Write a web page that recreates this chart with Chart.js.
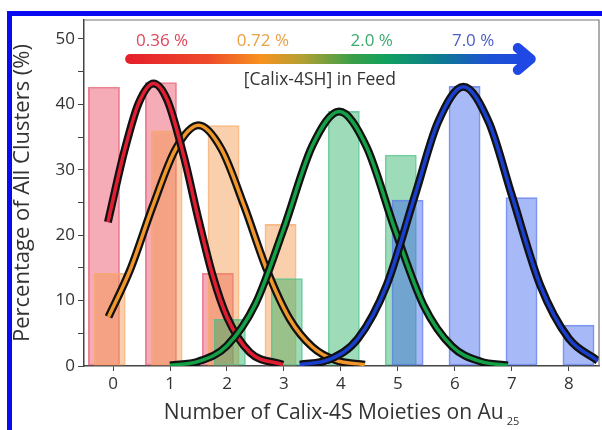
<!DOCTYPE html>
<html>
<head>
<meta charset="utf-8">
<script src="https://cdn.jsdelivr.net/npm/chart.js@4.4.1/dist/chart.umd.min.js"></script>
<style>
  html, body { margin: 0; padding: 0; background: #fff; }
  #frame {
    position: absolute; left: 7px; top: 11px;
    width: 590px; height: 414px;
    border-left: 5px solid #0a0af0; border-top: 5px solid #0a0af0;
  }
  canvas { display: block; }
</style>
</head>
<body>
<div id="frame"><canvas id="chart" width="590" height="414"></canvas></div>
<script>
// categories / tick labels
const moieties = [0, 1, 2, 3, 4, 5, 6, 7, 8];
const xTickLabels = ['0', '1', '2', '3', '4', '5', '6', '7', '8'];
const yTickValues = [0, 5, 10, 15, 20, 25, 30, 35, 40, 45, 50];
const yTickLabels = ['0', '', '10', '', '20', '', '30', '', '40', '', '50'];

// bar heights (% of all clusters) for each feed ratio
const bars036 = [42.7, 43.4, 14.2, null, null, null, null, null, null];
const bars072 = [14.2, 36.0, 36.8, 21.7, null, null, null, null, null];
const bars20  = [null, null, 7.2, 13.4, 39.0, 32.3, null, null, null];
const bars70  = [null, null, null, null, null, 25.4, 42.8, 25.8, 6.3];

// fitted curves, points
const fit036X = [-0.09, 0.2, 0.45, 0.71, 0.95, 1.25, 1.5, 1.75, 2.0, 2.4, 2.98];
const fit036Y = [22.0, 32.9, 40.2, 43.2, 40.7, 31.8, 22.4, 13.8, 7.5, 2.1, 0.2];
const fit072X = [-0.08, 0.3, 0.7, 1.1, 1.5, 1.9, 2.3, 2.7, 3.1, 3.5, 3.9, 4.42];
const fit072Y = [7.5, 14.7, 24.5, 33.2, 36.8, 33.2, 24.5, 14.7, 7.2, 2.9, 0.9, 0.2];
const fit20X  = [1.0, 1.5, 2.0, 2.5, 3.0, 3.5, 3.97, 4.45, 4.95, 5.45, 5.95, 6.45, 6.93];
const fit20Y  = [0.1, 0.7, 3.1, 9.5, 21.1, 33.7, 38.9, 33.5, 20.8, 9.3, 3.0, 0.7, 0.1];
const fit70X  = [3.28, 3.8, 4.3, 4.8, 5.3, 5.7, 6.15, 6.6, 7.0, 7.5, 8.0, 8.51];
const fit70Y  = [0.2, 1.0, 4.2, 12.3, 26.1, 37.2, 42.7, 37.2, 26.1, 12.3, 4.2, 0.8];

const feedLabels = ['0.36 %', '0.72 %', '2.0 %', '7.0 %'];

const FONT = "'Open Sans', 'Noto Sans', sans-serif";
const xMin = -0.51, xMax = 8.53;

// small sideways shift of each bar series (in x units)
const shifts = { x036: -0.16, x072: -0.06, x20: 0.05, x70: 0.17 };

function pts(xs, ys) { return xs.map((v, i) => ({ x: v, y: ys[i] })); }

function barSet(vals, axis, fill, edge, order) {
  return {
    type: 'bar', xAxisID: axis, yAxisID: 'y', order,
    data: moieties.map((m, i) => ({ x: m, y: vals[i] })),
    backgroundColor: fill, borderColor: edge, borderWidth: 2,
    borderSkipped: false, grouped: false,
    barPercentage: 1, categoryPercentage: 0.56
  };
}

function curveSets(xs, ys, color, order) {
  const base = { type: 'line', xAxisID: 'x', yAxisID: 'y',
    pointRadius: 0, cubicInterpolationMode: 'monotone', fill: false };
  return [
    Object.assign({}, base, { data: pts(xs, ys), borderColor: '#111', borderWidth: 8, order: order + 1 }),
    Object.assign({}, base, { data: pts(xs, ys), borderColor: color, borderWidth: 3.5, order })
  ];
}

// arrow + labels across the top, frame, x title
const feedArrow = {
  id: 'feedArrow',
  afterDatasetsDraw(chart) {
    const { ctx, chartArea, scales: { x, y } } = chart;

    ctx.save();
    ctx.strokeStyle = '#777';
    ctx.lineWidth = 1.2;
    ctx.beginPath();
    ctx.moveTo(chartArea.left, chartArea.top);
    ctx.lineTo(chartArea.right, chartArea.top);
    ctx.lineTo(chartArea.right, chartArea.bottom);
    ctx.stroke();

    const ay = y.getPixelForValue(46.94);
    const x0 = x.getPixelForValue(0.30);
    const x1 = x.getPixelForValue(7.28);
    const grad = ctx.createLinearGradient(x0 - 5, 0, x1 + 9, 0);
    [[0, '#e41e2b'], [0.2, '#ee4a2a'], [0.33, '#f7931e'], [0.43, '#b3a033'],
     [0.55, '#3b9f47'], [0.63, '#12a15c'], [0.76, '#0e7c8d'], [0.88, '#1d52d2'],
     [1, '#1e46e6']].forEach(s => grad.addColorStop(s[0], s[1]));
    ctx.lineCap = 'round';
    ctx.lineJoin = 'round';
    ctx.strokeStyle = grad;
    ctx.lineWidth = 10;
    ctx.beginPath();
    ctx.moveTo(x0, ay);
    ctx.lineTo(x1, ay);
    ctx.stroke();
    ctx.strokeStyle = '#1f48e4';
    ctx.lineWidth = 10;
    ctx.beginPath();
    ctx.moveTo(x1 - 10, ay - 11);
    ctx.lineTo(x1 + 3, ay);
    ctx.lineTo(x1 - 10, ay + 11);
    ctx.stroke();

    ctx.font = '17px ' + FONT;
    ctx.textAlign = 'center';
    ctx.textBaseline = 'middle';
    const lx = [0.86, 2.63, 4.54, 6.32];
    const lc = ['#e0455a', '#e8a045', '#3aaa6e', '#4a5ec4'];
    feedLabels.forEach((t, i) => {
      ctx.fillStyle = lc[i];
      ctx.fillText(t, x.getPixelForValue(lx[i]), y.getPixelForValue(49.6));
    });
    ctx.fillStyle = '#333';
    ctx.font = '17.5px ' + FONT;
    ctx.fillText('[Calix-4SH] in Feed', x.getPixelForValue(3.63), y.getPixelForValue(43.7));

    // x axis title with subscript
    const main = 'Number of Calix-4S Moieties on Au', sub = '25';
    ctx.font = '21px ' + FONT;
    const wm = ctx.measureText(main).width;
    ctx.font = '11px ' + FONT;
    const ws = ctx.measureText(sub).width;
    const cx = (chartArea.left + chartArea.right) / 2;
    const sx = cx - (wm + 3 + ws) / 2;
    ctx.textAlign = 'left';
    ctx.fillStyle = '#333';
    ctx.font = '21px ' + FONT;
    ctx.fillText(main, sx, chartArea.bottom + 47);
    ctx.font = '11px ' + FONT;
    ctx.fillText(sub, sx + wm + 3, chartArea.bottom + 56);
    ctx.restore();
  }
};

// invisible x axes that carry the shifted bar series
const shiftedAxis = s => ({
  type: 'linear', min: xMin - s, max: xMax - s, offset: false,
  ticks: { display: false }, grid: { display: false }, border: { display: false },
  afterFit: a => { a.height = 0; a.paddingLeft = 0; a.paddingRight = 0; }
});

new Chart(document.getElementById('chart'), {
  data: {
    datasets: [
      barSet(bars036, 'x036', 'rgba(235,70,95,0.45)', 'rgba(230,90,115,0.75)', 14),
      barSet(bars072, 'x072', 'rgba(245,150,70,0.45)', 'rgba(245,165,100,0.75)', 13),
      barSet(bars20, 'x20', 'rgba(40,175,100,0.45)', 'rgba(70,190,130,0.75)', 12),
      barSet(bars70, 'x70', 'rgba(60,100,235,0.45)', 'rgba(80,115,235,0.75)', 11),
      ...curveSets(fit072X, fit072Y, '#f0962a', 6),
      ...curveSets(fit036X, fit036Y, '#e01e32', 4),
      ...curveSets(fit20X, fit20Y, '#14a046', 2),
      ...curveSets(fit70X, fit70Y, '#1a3fcc', 0)
    ]
  },
  options: {
    responsive: false,
    animation: false,
    layout: { padding: { top: 4, right: 3, left: 0, bottom: 0 } },
    plugins: { legend: { display: false }, tooltip: { enabled: false } },
    scales: {
      x: {
        type: 'linear', min: xMin, max: xMax, offset: false,
        afterBuildTicks: s => { s.ticks = moieties.map(v => ({ value: v })); },
        afterFit: s => { s.height = 64; s.paddingLeft = 0; s.paddingRight = 0; },
        ticks: { callback: (v, i) => xTickLabels[i], color: '#333', padding: 3,
                 font: { family: FONT, size: 17 }, maxRotation: 0, autoSkip: false },
        grid: { drawOnChartArea: false, tickLength: 5, color: '#444' },
        border: { color: '#444', width: 1.5 }
      },
      y: {
        min: 0, max: 52.9,
        afterBuildTicks: s => { s.ticks = yTickValues.map(v => ({ value: v })); },
        afterFit: s => { s.width = 72; s.paddingTop = 0; s.paddingBottom = 0; },
        ticks: { callback: (v, i) => yTickLabels[i], color: '#333', padding: 3,
                 font: { family: FONT, size: 17 } },
        grid: { drawOnChartArea: false, tickLength: 6, color: '#444' },
        border: { color: '#444', width: 1.5 },
        title: { display: true, text: 'Percentage of All Clusters (%)', color: '#333',
                 font: { family: FONT, size: 22, lineHeight: 1 }, padding: 0 }
      },
      x036: shiftedAxis(shifts.x036),
      x072: shiftedAxis(shifts.x072),
      x20: shiftedAxis(shifts.x20),
      x70: shiftedAxis(shifts.x70)
    }
  },
  plugins: [feedArrow]
});
</script>
</body>
</html>
